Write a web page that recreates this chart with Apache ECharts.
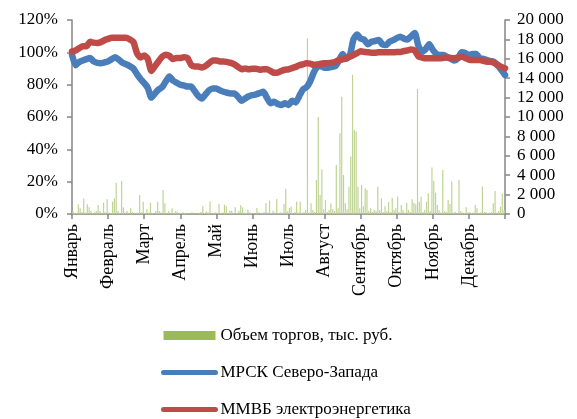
<!DOCTYPE html>
<html>
<head>
<meta charset="utf-8">
<script src="https://cdn.jsdelivr.net/npm/echarts/dist/echarts.min.js"></script>
<style>
  html, body { margin: 0; padding: 0; background: #fff; }
  #chart { width: 577px; height: 419px; }
</style>
</head>
<body>
<div id="chart"></div>
<script>
//месяцы
var months = ['Январь', 'Февраль', 'Март', 'Апрель', 'Май', 'Июнь', 'Июль', 'Август', 'Сентябрь', 'Октябрь', 'Ноябрь', 'Декабрь'];

//МРСК Северо-Запада, % (10 точек на месяц)
var mrsk = [
    98.5, 92, 94, 95, 95.8, 96.5, 94.4, 93.5, 93.3, 93.8,
    94.4, 95.8, 97, 95.4, 93.5, 92.6, 91.5, 90, 86.5, 83.5,
    81, 78, 72, 74.6, 77, 78.5, 82, 85, 82.5, 81.2,
    80, 79.5, 78.8, 78.8, 76, 73, 71.5, 74, 76.5, 77.7,
    77.7, 76.5, 75.6, 75, 74.6, 74.6, 72.5, 70, 71.5, 72.8,
    73.5, 74, 74.8, 75.6, 72, 68.5, 69.5, 68, 67.5, 68.5,
    67.5, 70, 69, 73, 77, 78.5, 82, 87.5, 91, 91.5,
    90.5, 90.5, 91, 91.5, 95, 99, 96, 98, 108, 111,
    108.5, 107.8, 105, 106.5, 107, 107.6, 105, 104.5, 106.6, 107.5,
    108.8, 109.6, 108.5, 108, 110, 112, 104, 100.5, 102, 105,
    101.5, 99, 98.3, 98.3, 97, 96, 95, 96.5, 100, 99.5,
    98.3, 99, 99, 96.3, 96, 95.2, 94.6, 94, 92, 89,
    86
];

//ММВБ электроэнергетика, %
var mmvb = [
    100.6, 101.2, 102.5, 103.8, 103.8, 106.5, 106, 105.8, 106.3, 107.5,
    108.3, 109, 109, 109, 109, 109, 108, 106.5, 99.5, 96.8,
    98, 96, 88.5, 91.5, 94.5, 97.3, 98.5, 97.8, 95.8, 96.5,
    96.5, 97, 96.5, 92.3, 91.3, 91.3, 90.6, 91.5, 93.3, 95,
    95, 94.4, 94.4, 94, 93.5, 92.5, 91, 89.5, 90, 89.5,
    89.8, 89.8, 89.3, 89.5, 89.6, 88.5, 87.3, 87.5, 88.5, 89.2,
    89.5, 90.2, 91, 92, 92.6, 93.2, 93, 92.3, 92.5, 93,
    93.2, 93.3, 93.6, 94.2, 95.2, 95.6, 96.3, 97.3, 98.3, 99.5,
    100.6, 100.3, 100, 99.8, 99.8, 100, 100, 100, 100, 100,
    100.2, 100.2, 100.8, 101.2, 101.8, 101, 97.5, 96.8, 96.3, 96.3,
    96.3, 96.3, 96.3, 96.6, 96.8, 96.5, 96.3, 96.8, 97.3, 96.5,
    95.5, 95.2, 95.2, 95.2, 94.8, 94.2, 94.2, 93.5, 92.1, 91,
    90.1
];

//Объем торгов, тыс. руб. (по дням)
var volume = [
    340, 120, 80, 1000, 580, 200, 1600, 150, 1000, 690, 300, 100, 200, 300, 930, 300, 80, 1170, 200, 1510,
    150, 100, 1270, 1600, 3230, 300, 100, 3400, 690, 150, 300, 100, 580, 200, 80, 120, 150, 1960, 200, 1270,
    100, 480, 150, 1170, 100, 80, 300, 1270, 300, 150, 2480, 1100, 100, 300, 80, 580, 100, 300, 200, 80,
    100, 170, 100, 60, 80, 50, 170, 60, 80, 50, 120, 200, 790, 100, 275, 150, 1300, 80, 100, 170,
    120, 1030, 100, 150, 960, 790, 100, 340, 340, 120, 690, 100, 340, 900, 690, 150, 100, 450, 170, 80,
    100, 60, 620, 170, 80, 120, 200, 1130, 150, 1380, 100, 340, 150, 1550, 100, 170, 120, 1030, 2600, 280,
    620, 760, 100, 200, 1270, 150, 1270, 100, 200, 400, 18100, 150, 1100, 400, 200, 3500, 10000, 1960, 4600, 500,
    1440, 200, 400, 1100, 500, 300, 5060, 600, 8320, 12100, 4020, 1100, 500, 2820, 5920, 14350, 8670, 8500, 2820, 600,
    3000, 800, 2640, 2480, 300, 600, 200, 400, 300, 2820, 400, 1620, 200, 800, 300, 1270, 200, 1680, 400, 600,
    1790, 200, 930, 400, 150, 1170, 400, 200, 1510, 1170, 1000, 12900, 1270, 1790, 200, 400, 1270, 2130, 300, 4800,
    3440, 2200, 930, 400, 150, 4540, 300, 200, 1440, 1030, 3340, 150, 200, 100, 3510, 300, 150, 100, 690, 150,
    200, 100, 150, 930, 600, 100, 150, 2820, 200, 200, 100, 150, 200, 1100, 2370, 150, 300, 760, 2130, 400
];

var chart = echarts.init(document.getElementById('chart'));

//подписи месяцев на каждой 10-й точке
var lineCats = mrsk.map(function (v, i) {
    return i % 10 === 0 && i / 10 < months.length ? months[i / 10] : '';
});
var barCats = volume.map(function (v, i) { return i; });

var font = 'Liberation Serif';
var axisColor = '#868686';
var green = '#9bbb59', blue = '#4a7ebb', red = '#be4b48';

var option = {
    animation: false,
    backgroundColor: '#fff',
    textStyle: { fontFamily: font },
    grid: { left: 72, right: 72, top: 20, bottom: 205, containLabel: false },
    legend: {
        orient: 'vertical',
        left: 156,
        top: 322,
        height: 120,
        itemWidth: 52,
        itemHeight: 9,
        itemGap: 20,
        textStyle: { fontFamily: font, fontSize: 17, color: '#000' },
        data: [
            { name: 'Объем торгов, тыс. руб.', icon: 'rect', itemStyle: { color: green, opacity: 1 } },
            { name: 'МРСК Северо-Запада', itemStyle: { opacity: 0 }, lineStyle: { width: 5, cap: 'round' } },
            { name: 'ММВБ электроэнергетика', itemStyle: { opacity: 0 }, lineStyle: { width: 5, cap: 'round' } }
        ]
    },
    xAxis: [{
        type: 'category',
        data: lineCats,
        boundaryGap: false,
        axisLine: { lineStyle: { color: axisColor, width: 1.5 } },
        axisTick: {
            length: 5,
            lineStyle: { color: axisColor, width: 1.5 },
            interval: function (i) { return i % 10 === 0; }
        },
        axisLabel: {
            interval: 0,
            rotate: 90,
            margin: 10,
            fontFamily: font,
            fontSize: 18,
            color: '#000'
        }
    }, {
        type: 'category',
        data: barCats,
        show: false,
        boundaryGap: true
    }],
    yAxis: [{
        type: 'value',
        min: 0,
        max: 120,
        interval: 20,
        splitLine: { show: false },
        axisLine: { show: true, lineStyle: { color: axisColor, width: 1.5 } },
        axisTick: { show: true, length: 5, lineStyle: { color: axisColor, width: 1.5 } },
        axisLabel: {
            margin: 14,
            fontFamily: font,
            fontSize: 17,
            color: '#000',
            formatter: '{value}%'
        }
    }, {
        type: 'value',
        min: 0,
        max: 20000,
        interval: 2000,
        position: 'right',
        splitLine: { show: false },
        axisLine: { show: true, lineStyle: { color: axisColor, width: 1.5 } },
        axisTick: { show: true, length: 5, lineStyle: { color: axisColor, width: 1.5 } },
        axisLabel: {
            margin: 12,
            fontFamily: font,
            fontSize: 17,
            color: '#000',
            formatter: function (v) {
                return String(v).replace(/\B(?=(\d{3})+(?!\d))/g, ' ');
            }
        }
    }],
    series: [{
        name: 'Объем торгов, тыс. руб.',
        type: 'bar',
        xAxisIndex: 1,
        yAxisIndex: 1,
        data: volume,
        barWidth: 1.2,
        itemStyle: { color: '#bfd494' }
    }, {
        name: 'МРСК Северо-Запада',
        type: 'line',
        xAxisIndex: 0,
        yAxisIndex: 0,
        data: mrsk,
        symbol: 'none',
        smooth: 0.2,
        itemStyle: { color: blue },
        lineStyle: { color: blue, width: 6.5, cap: 'round', join: 'round' }
    }, {
        name: 'ММВБ электроэнергетика',
        type: 'line',
        xAxisIndex: 0,
        yAxisIndex: 0,
        data: mmvb,
        symbol: 'none',
        smooth: 0.2,
        itemStyle: { color: red },
        lineStyle: { color: red, width: 6.5, cap: 'round', join: 'round' }
    }]
};

chart.setOption(option);
</script>
</body>
</html>
